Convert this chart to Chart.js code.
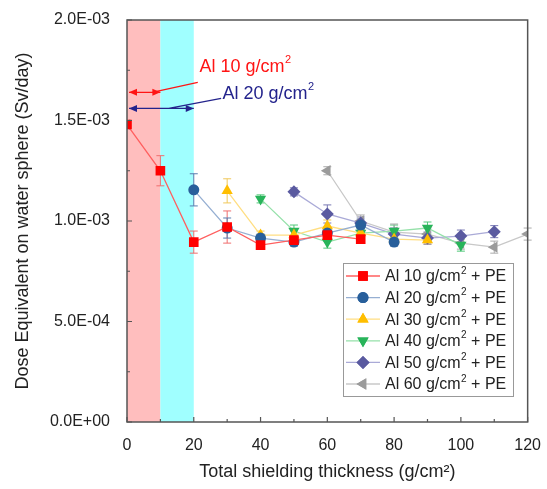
<!DOCTYPE html>
<html>
<head>
<meta charset="utf-8">
<script src="https://cdn.jsdelivr.net/npm/chart.js@4"></script>
<style>
  html, body { margin: 0; padding: 0; background: #fff; }
  #wrap { width: 547px; height: 489px; }
</style>
</head>
<body>
<div id="wrap"><canvas id="myChart"></canvas></div>
<script>
// values (Sv/day)
const x10 = [0, 10, 20, 30, 40, 50, 60, 70];
const y10 = [1.48e-3, 1.25e-3, 0.895e-3, 0.97e-3, 0.88e-3, 0.905e-3, 0.93e-3, 0.91e-3];
const e10 = [0, 0.075e-3, 0.055e-3, 0.08e-3, 0.02e-3, 0.02e-3, 0.03e-3, 0.02e-3];

const x20 = [20, 30, 40, 50, 60, 70, 80];
const y20 = [1.155e-3, 0.965e-3, 0.915e-3, 0.895e-3, 0.94e-3, 0.98e-3, 0.895e-3];
const e20 = [0.08e-3, 0.05e-3, 0.02e-3, 0.02e-3, 0.03e-3, 0.03e-3, 0.02e-3];

const x30 = [30, 40, 50, 60, 70, 80, 90];
const y30 = [1.15e-3, 0.93e-3, 0.93e-3, 0.975e-3, 0.94e-3, 0.91e-3, 0.905e-3];
const e30 = [0.06e-3, 0.02e-3, 0.02e-3, 0.03e-3, 0.04e-3, 0.03e-3, 0.02e-3];

const x40 = [40, 50, 60, 70, 80, 90, 100];
const y40 = [1.11e-3, 0.95e-3, 0.895e-3, 0.94e-3, 0.95e-3, 0.965e-3, 0.88e-3];
const e40 = [0.02e-3, 0.03e-3, 0.03e-3, 0.02e-3, 0.03e-3, 0.03e-3, 0.03e-3];

const x50 = [50, 60, 70, 80, 90, 100, 110];
const y50 = [1.145e-3, 1.035e-3, 0.99e-3, 0.935e-3, 0.915e-3, 0.925e-3, 0.947e-3];
const e50 = [0.02e-3, 0.045e-3, 0.03e-3, 0.03e-3, 0.03e-3, 0.03e-3, 0.03e-3];

const x60 = [0, 30, 60, 70, 80, 90, 100, 110, 120];
const y60 = [1.48e-3, null, 1.25e-3, 1.0e-3, 0.945e-3, 0.935e-3, 0.89e-3, 0.87e-3, 0.935e-3];
const e60 = [0, 0, 0.02e-3, 0.03e-3, 0.04e-3, 0.03e-3, 0.03e-3, 0.03e-3, 0.03e-3];

const labels = ['Al 10', 'Al 20', 'Al 30', 'Al 40', 'Al 50', 'Al 60'];
const xTicks = [0, 20, 40, 60, 80, 100, 120];
const yTicks = [0, 5e-4, 1e-3, 1.5e-3, 2e-3];

const FONT = '"Liberation Sans", Arial, sans-serif';

function pts(xs, ys) {
    return xs.map((x, i) => ({x: x, y: ys[i]}));
}

function fmt(v) {
    const s = Number(v).toExponential(1).split('e');
    let ex = parseInt(s[1], 10);
    const sign = ex < 0 ? '-' : '+';
    ex = Math.abs(ex);
    return s[0] + 'E' + sign + (ex < 10 ? '0' : '') + ex;
}

const series = [
    {xs: x10, ys: y10, es: e10, marker: 'rgb(255,0,0)', line: 'rgb(255,95,95)', err: 'rgb(240,110,110)', style: 'rect', rot: 0, r: 6.8},
    {xs: x20, ys: y20, es: e20, marker: 'rgb(40,95,155)', line: 'rgb(150,175,210)', err: 'rgb(90,125,175)', style: 'circle', rot: 0, r: 5.5},
    {xs: x30, ys: y30, es: e30, marker: 'rgb(255,190,0)', line: 'rgb(255,222,130)', err: 'rgb(240,200,90)', style: 'triangle', rot: 0, r: 6.5},
    {xs: x40, ys: y40, es: e40, marker: 'rgb(40,180,90)', line: 'rgb(150,225,170)', err: 'rgb(80,200,120)', style: 'triangle', rot: 180, r: 6.5},
    {xs: x50, ys: y50, es: e50, marker: 'rgb(90,90,160)', line: 'rgb(170,170,215)', err: 'rgb(120,120,180)', style: 'rectRot', rot: 0, r: 6.5},
    {xs: x60, ys: y60, es: e60, marker: 'rgb(155,155,155)', line: 'rgb(200,200,200)', err: 'rgb(170,170,170)', style: 'triangle', rot: -90, r: 6.5}
];

const datasets = series.map((s, i) => ({
    label: labels[i],
    data: pts(s.xs, s.ys),
    showLine: true,
    borderColor: s.line,
    borderWidth: 1.3,
    backgroundColor: s.marker,
    pointBackgroundColor: s.marker,
    pointBorderColor: s.marker,
    pointBorderWidth: 0,
    pointStyle: s.style,
    pointRotation: s.rot,
    pointRadius: s.r,
    spanGaps: false
}));

function supText(ctx, x, y, parts, size, color) {
    // parts: [[text, isSup], ...]
    ctx.fillStyle = color;
    ctx.textBaseline = 'middle';
    ctx.textAlign = 'left';
    let cx = x;
    parts.forEach(p => {
        if (p[1]) {
            ctx.font = Math.round(size * 0.62) + 'px ' + FONT;
            ctx.fillText(p[0], cx + 0.5, y - size * 0.38);
        } else {
            ctx.font = size + 'px ' + FONT;
            ctx.fillText(p[0], cx, y);
        }
        cx += ctx.measureText(p[0]).width + (p[1] ? 0.5 : 0);
    });
}

function arrowHead(ctx, x, y, dir, color) {
    ctx.fillStyle = color;
    ctx.beginPath();
    ctx.moveTo(x, y);
    ctx.lineTo(x - dir * 8, y - 3.5);
    ctx.lineTo(x - dir * 8, y + 3.5);
    ctx.closePath();
    ctx.fill();
}

const decor = {
    id: 'decor',
    beforeDatasetsDraw(chart) {
        const ctx = chart.ctx;
        const xs = chart.scales.x, ys = chart.scales.y;
        const top = ys.getPixelForValue(2e-3), bot = ys.getPixelForValue(0);
        ctx.save();
        ctx.fillStyle = 'rgb(255,190,190)';
        ctx.fillRect(xs.getPixelForValue(0), top, xs.getPixelForValue(10) - xs.getPixelForValue(0), bot - top);
        ctx.fillStyle = 'rgb(160,255,255)';
        ctx.fillRect(xs.getPixelForValue(10), top, xs.getPixelForValue(20) - xs.getPixelForValue(10), bot - top);

        // error bars
        series.forEach(s => {
            ctx.strokeStyle = s.err;
            ctx.lineWidth = 1;
            s.xs.forEach((x, i) => {
                if (s.ys[i] == null || !s.es[i]) return;
                const px = xs.getPixelForValue(x);
                const p1 = ys.getPixelForValue(s.ys[i] + s.es[i]);
                const p2 = ys.getPixelForValue(s.ys[i] - s.es[i]);
                ctx.beginPath();
                ctx.moveTo(px, p1); ctx.lineTo(px, p2);
                ctx.moveTo(px - 4, p1); ctx.lineTo(px + 4, p1);
                ctx.moveTo(px - 4, p2); ctx.lineTo(px + 4, p2);
                ctx.stroke();
            });
        });
        ctx.restore();
    },
    afterDraw(chart) {
        const ctx = chart.ctx;
        const xs = chart.scales.x, ys = chart.scales.y;
        const a = chart.chartArea;
        ctx.save();
        // frame
        ctx.strokeStyle = '#555';
        ctx.lineWidth = 1.5;
        ctx.strokeRect(a.left, a.top, a.right - a.left, a.bottom - a.top);
        // inner ticks
        ctx.lineWidth = 1.2;
        ctx.beginPath();
        for (let v = 0; v <= 120; v += 10) {
            const px = xs.getPixelForValue(v);
            ctx.moveTo(px, a.bottom); ctx.lineTo(px, a.bottom - (v % 20 === 0 ? 5 : 3));
        }
        for (let k = 0; k <= 8; k++) {
            const py = ys.getPixelForValue(k * 2.5e-4);
            ctx.moveTo(a.left, py); ctx.lineTo(a.left + (k % 2 === 0 ? 5 : 3), py);
        }
        ctx.stroke();

        // annotations
        const red = 'rgb(255,20,20)', navy = 'rgb(35,35,140)';
        const ry = ys.getPixelForValue(1.64e-3);
        const by = ys.getPixelForValue(1.56e-3);
        const x0 = xs.getPixelForValue(0) + 2, x10p = xs.getPixelForValue(10), x20p = xs.getPixelForValue(20);
        ctx.lineWidth = 1.2;
        ctx.strokeStyle = red;
        ctx.beginPath();
        ctx.moveTo(x0, ry); ctx.lineTo(x10p, ry);
        ctx.moveTo(xs.getPixelForValue(7.5), ry); ctx.lineTo(xs.getPixelForValue(21.2), ys.getPixelForValue(1.69e-3));
        ctx.stroke();
        arrowHead(ctx, x0, ry, -1, red);
        arrowHead(ctx, x10p, ry, 1, red);
        ctx.strokeStyle = navy;
        ctx.beginPath();
        ctx.moveTo(x0, by); ctx.lineTo(x20p, by);
        ctx.moveTo(xs.getPixelForValue(12.5), by); ctx.lineTo(xs.getPixelForValue(28.2), ys.getPixelForValue(1.61e-3));
        ctx.stroke();
        arrowHead(ctx, x0, by, -1, navy);
        arrowHead(ctx, x20p, by, 1, navy);
        supText(ctx, xs.getPixelForValue(21.7), ys.getPixelForValue(1.767e-3),
            [['Al 10 g/cm', false], ['2', true]], 18, red);
        supText(ctx, xs.getPixelForValue(28.6), ys.getPixelForValue(1.634e-3),
            [['Al 20 g/cm', false], ['2', true]], 18, navy);

        // legend box
        const lx = 343, ly = 263, lw = 170, lh = 133;
        ctx.fillStyle = '#fff';
        ctx.fillRect(lx, ly, lw, lh);
        ctx.strokeStyle = '#999';
        ctx.lineWidth = 1;
        ctx.strokeRect(lx + 0.5, ly + 0.5, lw, lh);
        chart.data.datasets.forEach((d, i) => {
            const yy = ly + 13 + i * 21.6;
            ctx.strokeStyle = d.borderColor;
            ctx.lineWidth = 1.3;
            ctx.beginPath();
            ctx.moveTo(lx + 3, yy); ctx.lineTo(lx + 37, yy);
            ctx.stroke();
            ctx.fillStyle = d.pointBackgroundColor;
            Chart.helpers.drawPoint(ctx, {pointStyle: d.pointStyle, rotation: d.pointRotation, radius: d.pointRadius, borderWidth: 0}, lx + 20, yy);
            ctx.fill();
            supText(ctx, lx + 42, yy + 1, [[d.label + ' g/cm', false], ['2', true], [' + PE', false]], 16, '#222');
        });
        ctx.restore();
    }
};

const ctx = document.getElementById('myChart');

const config = {
    type: 'scatter',
    data: { datasets: datasets },
    options: {
        responsive: true,
        maintainAspectRatio: false,
        animation: false,
        layout: { padding: { left: 0, right: 15, top: 20, bottom: 0 } },
        plugins: {
            legend: { display: false },
            tooltip: { enabled: false }
        },
        scales: {
            x: {
                type: 'linear',
                min: 0,
                max: 120,
                afterFit(scale) { scale.height = 67; },
                afterBuildTicks(scale) { scale.ticks = xTicks.map(v => ({value: v})); },
                grid: { display: false },
                border: { display: false },
                ticks: { font: { size: 16, family: FONT }, color: '#222', padding: 6 },
                title: {
                    display: true,
                    text: 'Total shielding thickness (g/cm²)',
                    font: { size: 18, family: FONT },
                    color: '#222',
                    padding: { top: 4, bottom: 6 }
                }
            },
            y: {
                min: 0,
                max: 2e-3,
                afterFit(scale) { scale.width = 127; },
                afterBuildTicks(scale) { scale.ticks = yTicks.map(v => ({value: v})); },
                grid: { display: false },
                border: { display: false },
                ticks: { font: { size: 16, family: FONT }, color: '#222', padding: 9, callback: v => fmt(v) },
                title: {
                    display: true,
                    text: 'Dose Equivalent on water sphere (Sv/day)',
                    font: { size: 18, family: FONT },
                    color: '#222',
                    padding: { top: 12, bottom: 4 }
                }
            }
        }
    },
    plugins: [decor]
};

const myChart = new Chart(ctx, config);
</script>
</body>
</html>
